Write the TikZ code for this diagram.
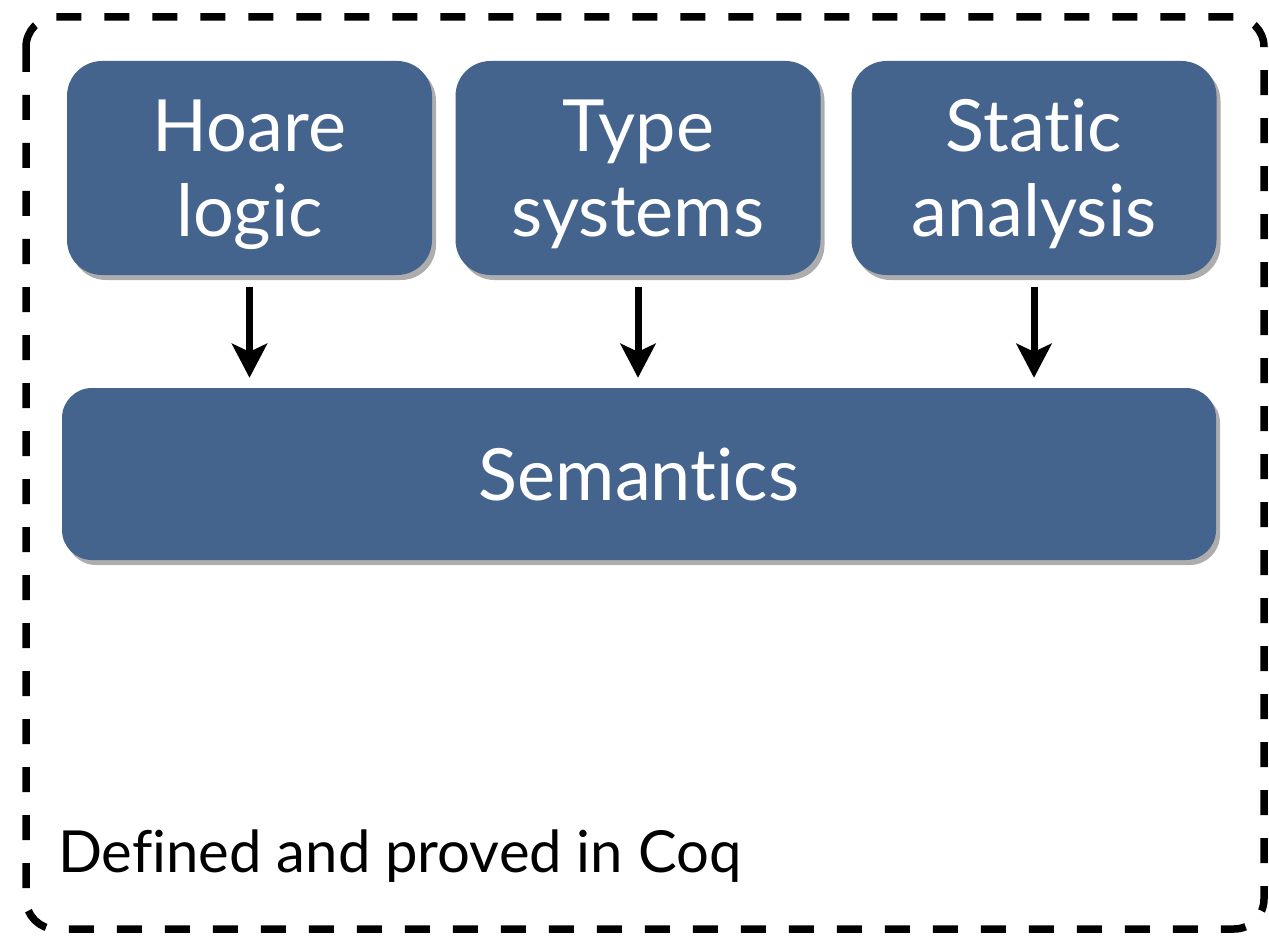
\documentclass[tikz,border=0pt]{standalone}
\usepackage{fontspec}
\setmainfont{Lato}[Ligatures={NoCommon,NoContextual}]
\usetikzlibrary{arrows.meta,shadows}
\definecolor{boxblue}{HTML}{44648E}
\tikzset{
  box/.style={fill=boxblue,text=white,rounded corners=35pt,align=center,
    minimum width=365pt,minimum height=214pt,text depth=0pt,
    font=\fontsize{72}{85}\selectfont,
    drop shadow={shadow xshift=4pt,shadow yshift=-5pt,opacity=.4,fill=black!80}},
  dep/.style={line width=7pt,-{Stealth[width=35pt,length=34pt,inset=8pt]},
    shorten <=12pt,shorten >=10pt}
}
\begin{document}
\begin{tikzpicture}[x=1pt,y=-1pt]
\useasboundingbox (0,0) rectangle (1269,936);
% frame
\draw[line width=7.5pt,dash pattern=on 25pt off 23pt,rounded corners=30pt]
  (26,17) rectangle (1264,929);
\node[box] (hoare) at (249.5,168) {Hoare\\logic};
\node[box] (types) at (638,168) {Type\\systems};
\node[box] (static) at (1034,168) {Static\\analysis};
\node[box,rounded corners=30pt,minimum width=1154pt,minimum height=172pt]
  (sem) at (639,474) {Semantics};
\draw[dep] (hoare.south) -- (hoare.south |- sem.north);
\draw[dep] (types.south) -- (types.south |- sem.north);
\draw[dep] (static.south) -- (static.south |- sem.north);
\node[anchor=base west,inner sep=0pt,font=\fontsize{58}{70}\selectfont]
  (coq) at (58,872) {Defined and proved in Coq};
\end{tikzpicture}
\end{document}
